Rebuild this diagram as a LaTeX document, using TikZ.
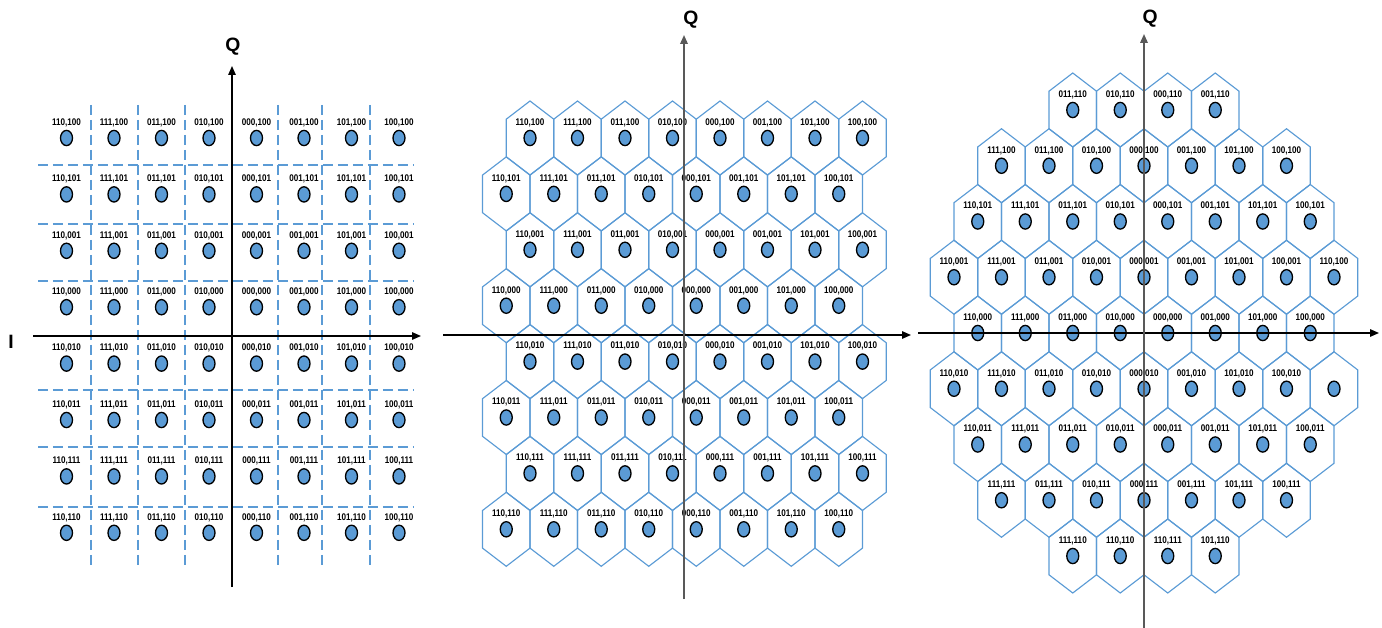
\documentclass[tikz,border=0pt]{standalone}
\usepackage{fontspec}
\setmainfont{Liberation Sans}
\newfontfamily\lblfont[FakeStretch=0.84]{Liberation Sans}
\usetikzlibrary{arrows.meta,positioning,shapes.geometric}
\definecolor{ptblue}{HTML}{5B9BD5}

\begin{document}
\begin{tikzpicture}[x=.02cm,y=-.02cm,
 dot/.style={ellipse,draw,fill=ptblue,line width=.75pt,minimum width=.24cm,minimum height=.305cm,inner sep=0pt},
 lbl/.style={font=\lblfont\bfseries\fontsize{5.5}{6}\selectfont,inner sep=0pt},
 axl/.style={font=\bfseries\fontsize{11}{12}\selectfont,inner sep=0pt},
 ax/.style={-{Triangle[length=.18cm,width=.15cm]},line width=.8pt},
 qax/.style={ax,draw=black!65,line width=1pt},
 grd/.style={draw=ptblue,dash pattern=on .2cm off .1cm,line width=.6pt},
 hex/.pic={\draw[draw=ptblue,line width=.65pt] (0,-37)--(23.75,-18.8)--(23.75,18.8)--(0,37)--(-23.75,18.8)--(-23.75,-18.8)--cycle;}]
\useasboundingbox (0,0) rectangle (1382,628);
% square grid
\foreach \x in {91,138,185,278,322,370} \draw[grd] (\x,105)--(\x,567);
\foreach \y in {165,224,281,390,447,507} \draw[grd] (38,\y)--(413,\y);
\foreach \cb [count=\i from 0] in {110,111,011,010,000,001,101,100}
 \foreach \rb [count=\j from 0] in {100,101,001,000,010,011,111,110}{
  \node[dot] (a\i\j) at ({66.5+47.5*\i},{138+56.4*\j}) {};
  \node[lbl,above=.05cm of a\i\j] {\cb,\rb};}
\coordinate (i1s) at (33,336);\coordinate (i1e) at (421,336);
\coordinate (q1s) at (232,587);\coordinate (q1e) at (232,66);
\draw[ax] (i1s)--(i1e);\draw[ax] (q1s)--(q1e);
\node[axl] (q1) at (233,47) {Q};\node[axl] (i1) at (11,342) {I};
% hexagonal grid
\foreach \rb [count=\j from 0] in {100,101,001,000,010,011,111,110}{
 \pgfmathsetmacro\xo{mod(\j,2)==0 ? 530 : 506.25}
 \foreach \cb [count=\i from 0] in {110,111,011,010,000,001,101,100}{
  \pic at ({\xo+47.5*\i},{138+55.9*\j}) {hex};
  \node[dot] (b\i\j) at ({\xo+47.5*\i},{138+55.9*\j}) {};
  \node[lbl,above=.05cm of b\i\j] {\cb,\rb};}}
\coordinate (i2s) at (443,335);\coordinate (i2e) at (911,335);
\coordinate (q2s) at (684,599);\coordinate (q2e) at (684,35);
\draw[ax] (i2s)--(i2e);\draw[qax] (q2s)--(q2e);
\node[axl] (q2) at (691,20) {Q};
% hexagonal cross
\foreach \xo/\items [count=\j from 0] in {
 1072.75/{011/110,010/110,000/110,001/110},
 1001.5/{111/100,011/100,010/100,000/100,001/100,101/100,100/100},
 977.75/{110/101,111/101,011/101,010/101,000/101,001/101,101/101,100/101},
 954/{110/001,111/001,011/001,010/001,000/001,001/001,101/001,100/001,110/100},
 977.75/{110/000,111/000,011/000,010/000,000/000,001/000,101/000,100/000},
 954/{110/010,111/010,011/010,010/010,000/010,001/010,101/010,100/010},
 977.75/{110/011,111/011,011/011,010/011,000/011,001/011,101/011,100/011},
 1001.5/{111/111,011/111,010/111,000/111,001/111,101/111,100/111},
 1072.75/{111/110,110/110,110/111,101/110}}{
 \foreach \cb/\rb [count=\i from 0] in \items{
  \pic at ({\xo+47.5*\i},{110+55.75*\j}) {hex};
  \node[dot] (c\i\j) at ({\xo+47.5*\i},{110+55.75*\j}) {};
  \node[lbl,above=.05cm of c\i\j] {\cb,\rb};}}
\pic at (1334,388.75) {hex};\node[dot] (c85) at (1334,388.75) {};
\coordinate (i3s) at (918,333);\coordinate (i3e) at (1379,333);
\coordinate (q3s) at (1144,628);\coordinate (q3e) at (1144,34);
\draw[ax] (i3s)--(i3e);\draw[qax] (q3s)--(q3e);
\node[axl] (q3) at (1150,19) {Q};
\end{tikzpicture}
\end{document}
